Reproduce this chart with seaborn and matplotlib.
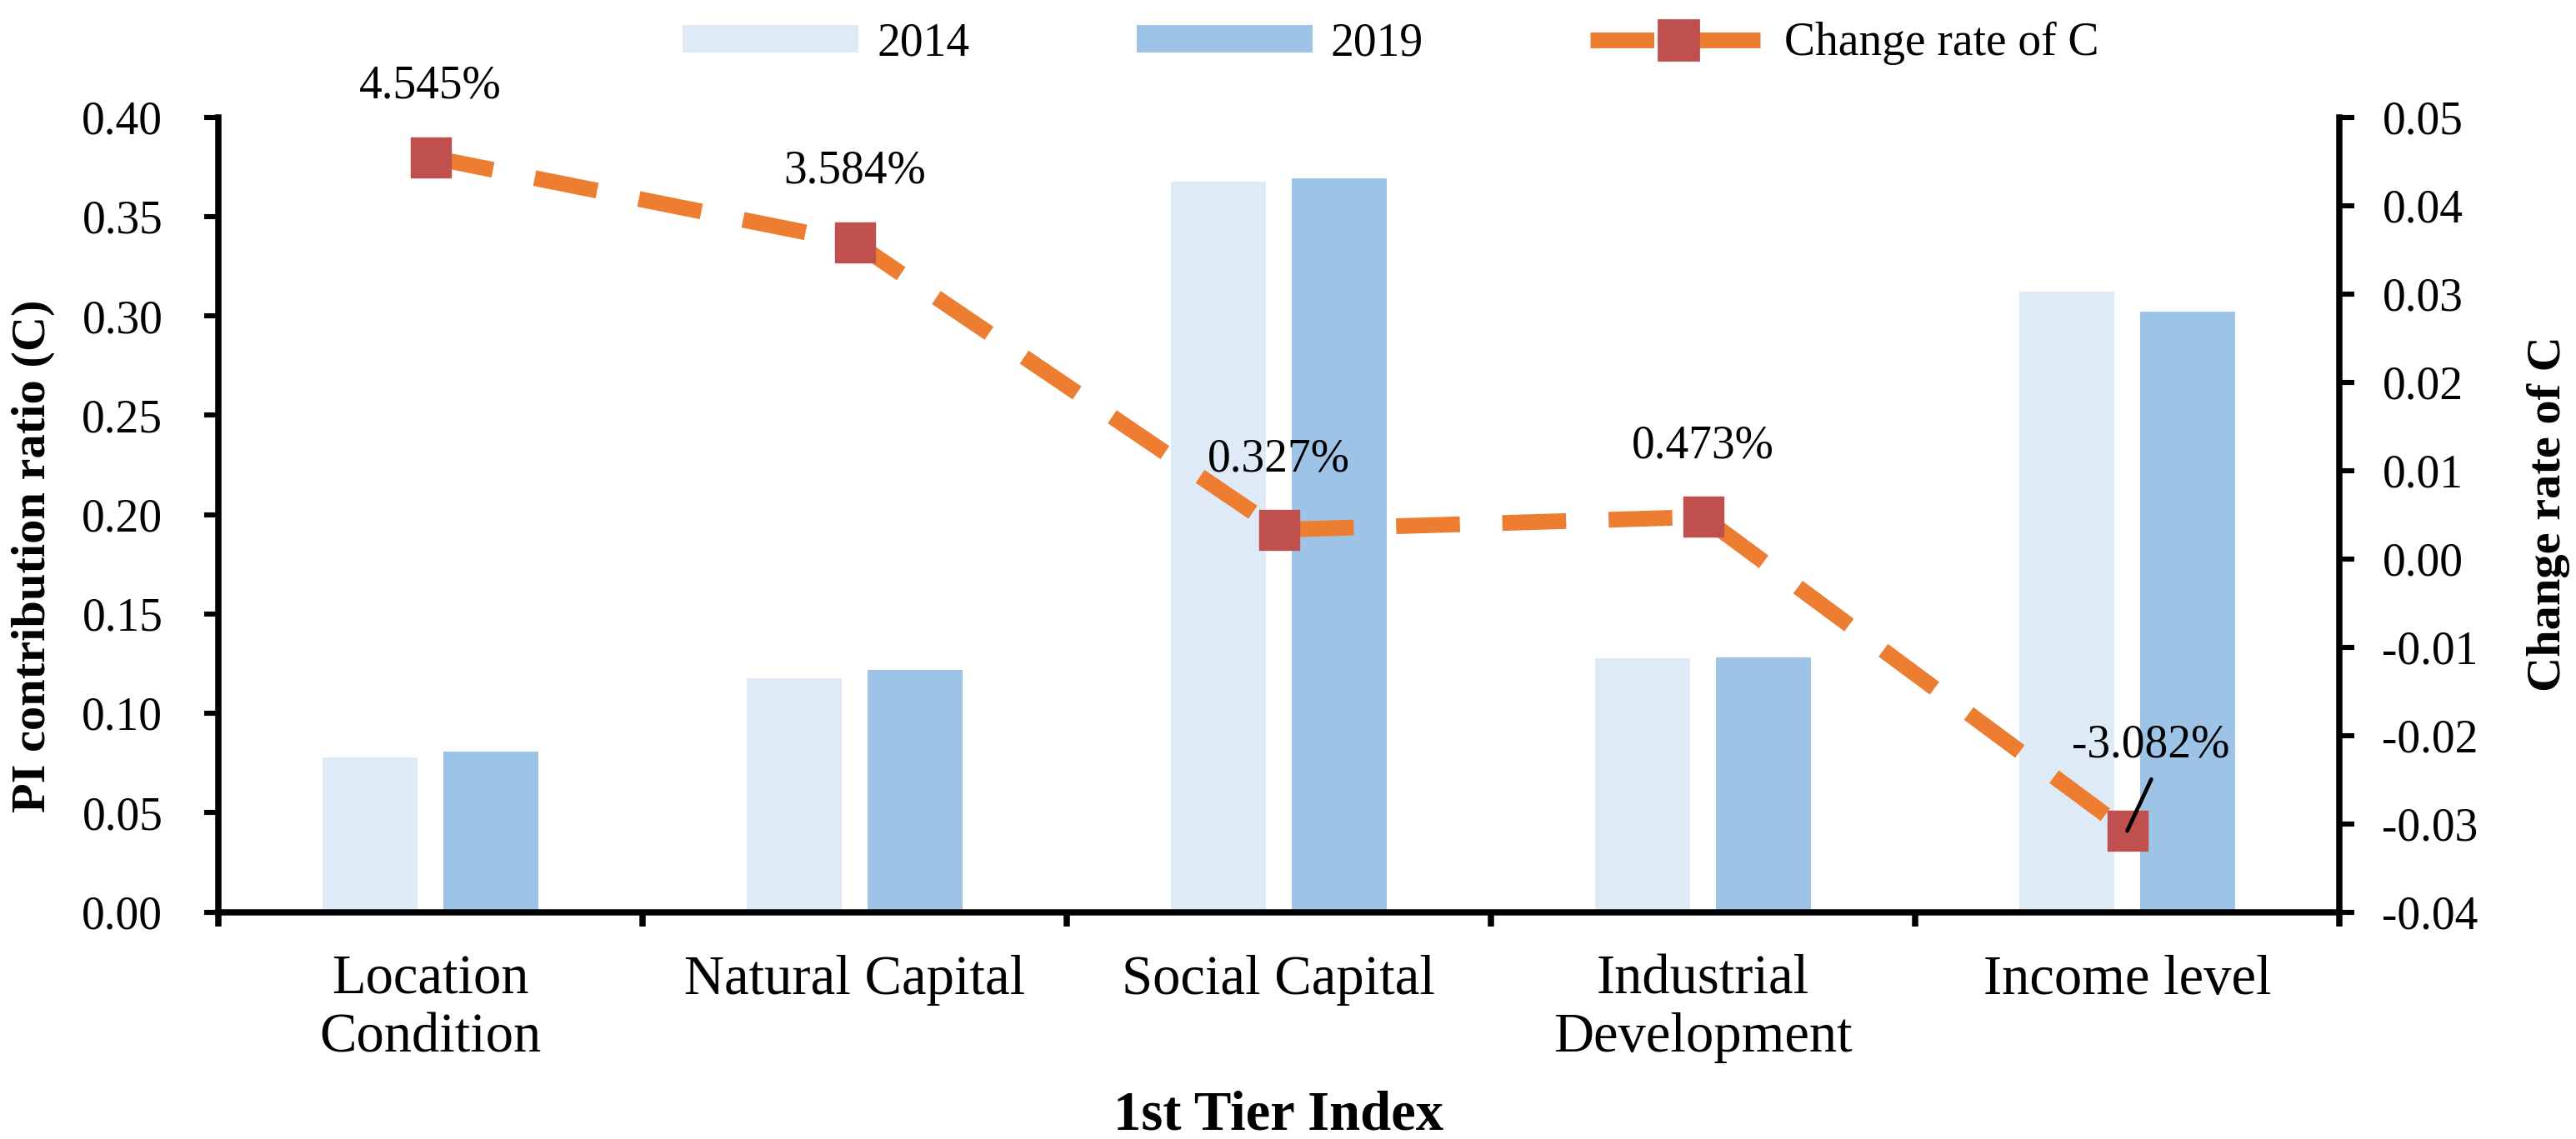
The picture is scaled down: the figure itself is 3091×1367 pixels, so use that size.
import numpy as np
import pandas as pd
import matplotlib
matplotlib.use("Agg")
import matplotlib.pyplot as plt
import seaborn as sns
from matplotlib.lines import Line2D
from matplotlib.patches import Patch
from matplotlib.ticker import FixedLocator, FormatStrFormatter

# ---------------- data ----------------
categories = ["Location\nCondition", "Natural Capital", "Social Capital",
              "Industrial\nDevelopment", "Income level"]
years = ["2014", "2019"]
c_2014 = [0.0776, 0.1178, 0.3677, 0.1275, 0.3120]
c_2019 = [0.0809, 0.1220, 0.3690, 0.1279, 0.3023]
change_rate = [0.04545, 0.03584, 0.00327, 0.00473, -0.03082]
rate_labels = ["4.545%", "3.584%", "0.327%", "0.473%", "-3.082%"]
left_ticks = [0.00, 0.05, 0.10, 0.15, 0.20, 0.25, 0.30, 0.35, 0.40]
right_ticks = [-0.04, -0.03, -0.02, -0.01, 0.00, 0.01, 0.02, 0.03, 0.04, 0.05]
line_legend_label = "Change rate of C"

bar_colors = ["#DEEBF7", "#9DC3E6"]
line_color = "#ED7D31"
marker_color = "#C0504D"

df = pd.DataFrame({
    "Index": categories * 2,
    "C": c_2014 + c_2019,
    "Year": [years[0]] * len(categories) + [years[1]] * len(categories),
})

# ---------------- style ----------------
sns.set_theme(style="ticks")
plt.rcParams["font.family"] = ["Liberation Serif", "DejaVu Serif"]
plt.rcParams["axes.unicode_minus"] = False
plt.rcParams["text.color"] = "black"
plt.rcParams["axes.labelcolor"] = "black"
plt.rcParams["xtick.color"] = "black"
plt.rcParams["ytick.color"] = "black"

DPI = 200
fig = plt.figure(figsize=(3091 / DPI, 1367 / DPI), dpi=DPI)
W, H = 3091, 1367
ax_l, ax_r, ax_t, ax_b = 262, 2807, 140.5, 1094.5
ax = fig.add_axes([ax_l / W, 1 - ax_b / H, (ax_r - ax_l) / W, (ax_b - ax_t) / H])

sns.barplot(data=df, x="Index", y="C", hue="Year", palette=bar_colors,
            width=0.568, gap=0.208, saturation=1, linewidth=0,
            errorbar=None, ax=ax)
if ax.get_legend() is not None:
    ax.get_legend().remove()

ax2 = ax.twinx()
sns.pointplot(x=categories, y=change_rate, ax=ax2, color=line_color,
              markers="s", linestyles="--", errorbar=None)
ln = ax2.lines[-1]
lw = 6.8
ln.set_linewidth(lw)
ln.set_dashes((4.05, 2.7))
ln.set_markersize(17.3)
ln.set_markerfacecolor(marker_color)
ln.set_markeredgecolor(marker_color)
ln.set_markeredgewidth(0.5)
ln.set_zorder(5)

# ---------------- axes ----------------
spine_w = 2.7
ax.set_xlim(-0.5, len(categories) - 0.5)
ax.set_ylim(0, 0.40)
ax2.set_ylim(-0.04, 0.05)
ax.yaxis.set_major_locator(FixedLocator(left_ticks))
ax.yaxis.set_major_formatter(FormatStrFormatter("%.2f"))
ax2.yaxis.set_major_locator(FixedLocator(right_ticks))
ax2.yaxis.set_major_formatter(FormatStrFormatter("%.2f"))

ax.set_xticks(range(len(categories)))
ax.set_xticklabels(categories, fontsize=24, linespacing=1.18)
ax.xaxis.set_minor_locator(FixedLocator(np.arange(-0.5, len(categories), 1.0)))
ax.tick_params(axis="x", which="major", length=0, pad=18.4)
ax.tick_params(axis="x", which="minor", length=6.0, width=spine_w, direction="out")
ax.tick_params(axis="y", which="major", length=6.0, width=2.2, direction="out",
               labelsize=20, pad=18)
ax2.tick_params(axis="y", which="major", length=6.5, width=2.2, direction="out",
                labelsize=20, pad=12)

for a in (ax, ax2):
    a.spines["top"].set_visible(False)
    for s in ("left", "right", "bottom"):
        a.spines[s].set_linewidth(spine_w)
        a.spines[s].set_color("black")
ax.spines["right"].set_visible(False)
ax2.spines["left"].set_visible(False)
ax2.spines["bottom"].set_visible(False)
ax.grid(False)
ax2.grid(False)

ax.set_xlabel("1st Tier Index", fontsize=24, fontweight="bold")
ax.xaxis.set_label_coords(0.5, (ax_b - 1309) / (ax_b - ax_t))
ax.set_ylabel("PI contribution ratio (C)", fontsize=21, fontweight="bold")
ax.yaxis.set_label_coords((66 - ax_l) / (ax_r - ax_l), (ax_b - 667) / (ax_b - ax_t))
ax2.set_ylabel("Change rate of C", fontsize=21, fontweight="bold")
ax2.yaxis.set_label_coords((3032 - ax_l) / (ax_r - ax_l), (ax_b - 617) / (ax_b - ax_t))

# ---------------- data labels ----------------
for i, (v, lab) in enumerate(zip(change_rate, rate_labels)):
    if i == len(change_rate) - 1:
        ax2.annotate(lab, xy=(i, v), xytext=(10, 32), textcoords="offset points",
                     ha="center", va="baseline", fontsize=20, zorder=6)
        ax2.annotate("", xy=(i, v), xytext=(10.4, 22.3), textcoords="offset points",
                     arrowprops=dict(arrowstyle="-", lw=1.7, color="black",
                                     shrinkA=0, shrinkB=0), zorder=6)
    else:
        ax2.annotate(lab, xy=(i, v), xytext=(0, 25.5), textcoords="offset points",
                     ha="center", va="baseline", fontsize=20, zorder=6)

# ---------------- legend ----------------
handles = [
    Patch(facecolor=bar_colors[0], edgecolor="none"),
    Patch(facecolor=bar_colors[1], edgecolor="none"),
    Line2D([], [], color=line_color, lw=lw, dashes=(4.05, 2.7), marker="s",
           markersize=17.3, markerfacecolor=marker_color,
           markeredgecolor=marker_color),
]
fig.legend(handles, years + [line_legend_label], ncol=3, frameon=False,
           fontsize=20, handlelength=3.8, handleheight=0.55, handletextpad=0.4,
           columnspacing=3.6, loc="center",
           bbox_to_anchor=(1669 / W, 1 - 52 / H))

fig.savefig("out.png", dpi=DPI)
